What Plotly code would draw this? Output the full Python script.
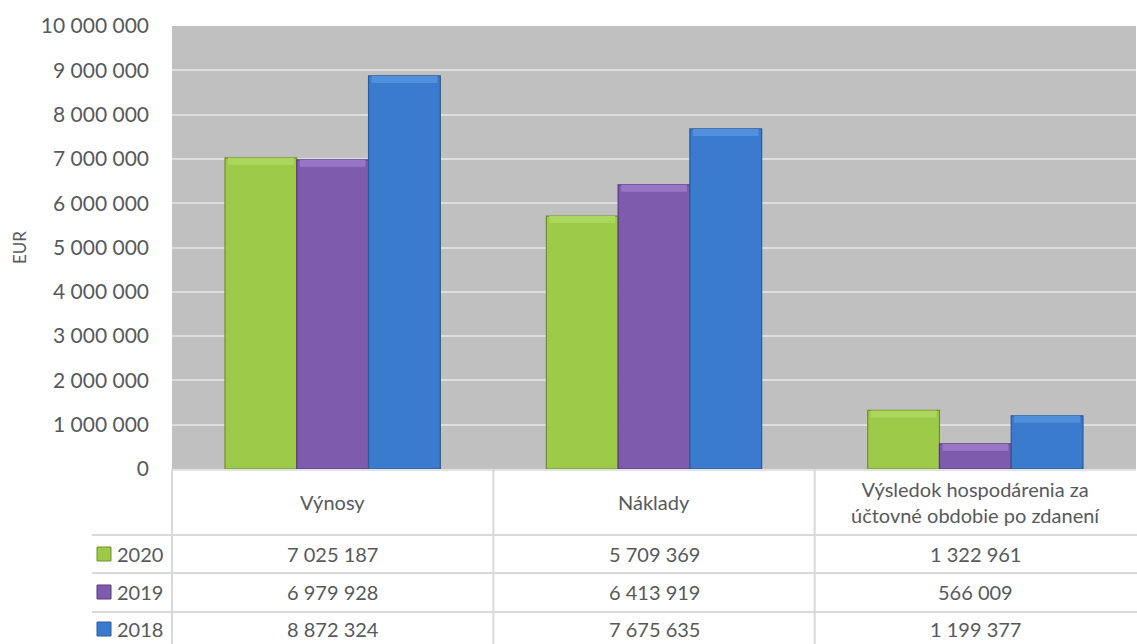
import plotly.graph_objects as go

categories = ["Výnosy", "Náklady", "Výsledok hospodárenia za<br>účtovné obdobie po zdanení"]
years = ["2020", "2019", "2018"]
values_2020 = [7025187, 5709369, 1322961]
values_2019 = [6979928, 6413919, 566009]
values_2018 = [8872324, 7675635, 1199377]
colors = ["#9dca48", "#7f5bae", "#3a7bcd"]
top_colors = ["#acd75e", "#9776c6", "#5090dc"]
line_colors = ["#6f8f2e", "#553a80", "#2a5a99"]

series = [values_2020, values_2019, values_2018]

W, H = 1137, 644
L, R, T, B = 172, 1, 26, 175
pw = W - L - R
ph = H - T - B
y_max = 10000000
bevel = y_max * 7 / ph  # ~7 px highlight strip at bar top

def px_x(x):
    return (x - L) / pw

def px_y(y):
    return (H - B - y) / ph

def fmt(v):
    return f"{v:,}".replace(",", " ")

fig = go.Figure()
xs = list(range(len(categories)))
for yr, vals, c, tc, lc in zip(years, series, colors, top_colors, line_colors):
    fig.add_trace(go.Bar(
        x=xs, y=vals, name=yr, offsetgroup=yr,
        marker=dict(color=c, line=dict(color=lc, width=1.2)),
        showlegend=False,
    ))
    fig.add_trace(go.Bar(
        x=xs, y=[bevel] * len(vals), base=[v - bevel for v in vals],
        name=yr + " top", offsetgroup=yr, width=0.205,
        marker=dict(color=tc, line=dict(width=0)),
        showlegend=False, hoverinfo="skip",
    ))

font_family = "Lato, 'Open Sans', sans-serif"
txt_color = "#595959"
grid_c = "#d9d9d9"
fs = 20

shapes = []
annotations = []

col_edges = [L + i * pw / 3 for i in range(4)]
row_lines = [535, 573, 612]
header_center = 502
row_centers = [554, 592, 629]
left_edge = 92

for xe in col_edges[:3]:
    shapes.append(dict(type="line", xref="paper", yref="paper",
                       x0=px_x(xe), x1=px_x(xe), y0=px_y(H - B), y1=px_y(H + 5),
                       line=dict(color=grid_c, width=2)))
for yl in row_lines:
    shapes.append(dict(type="line", xref="paper", yref="paper",
                       x0=px_x(left_edge), x1=px_x(W), y0=px_y(yl), y1=px_y(yl),
                       line=dict(color=grid_c, width=2)))
shapes.append(dict(type="line", xref="paper", yref="paper",
                   x0=0, x1=1, y0=px_y(H - B + 1), y1=px_y(H - B + 1),
                   line=dict(color=grid_c, width=1.5)))

for i, cat in enumerate(categories):
    cx = (col_edges[i] + col_edges[i + 1]) / 2
    annotations.append(dict(xref="paper", yref="paper", x=px_x(cx), y=px_y(header_center),
                            text=cat, showarrow=False, xanchor="center", yanchor="middle",
                            font=dict(family=font_family, size=fs, color=txt_color)))
for r, (yr, vals, c, lc) in enumerate(zip(years, series, colors, line_colors)):
    cy = row_centers[r]
    shapes.append(dict(type="rect", xref="paper", yref="paper",
                       x0=px_x(97), x1=px_x(111), y0=px_y(cy + 7), y1=px_y(cy - 7),
                       fillcolor=c, line=dict(color=lc, width=1)))
    annotations.append(dict(xref="paper", yref="paper", x=px_x(115), y=px_y(cy),
                            text=yr, showarrow=False, xanchor="left", yanchor="middle",
                            font=dict(family=font_family, size=fs, color=txt_color)))
    for i, v in enumerate(vals):
        cx = (col_edges[i] + col_edges[i + 1]) / 2
        annotations.append(dict(xref="paper", yref="paper", x=px_x(cx), y=px_y(cy),
                                text=fmt(v), showarrow=False, xanchor="center", yanchor="middle",
                                font=dict(family=font_family, size=fs, color=txt_color)))

annotations.append(dict(xref="paper", yref="paper", x=px_x(19), y=px_y(248),
                        text="EUR", textangle=-90, showarrow=False,
                        xanchor="center", yanchor="middle",
                        font=dict(family=font_family, size=17, color=txt_color)))

fig.update_layout(
    width=W, height=H,
    margin=dict(l=L, r=R, t=T, b=B),
    paper_bgcolor="white", plot_bgcolor="#c0c0c0",
    barmode="group", bargap=0.33, bargroupgap=0,
    separators=", ",
    font=dict(family=font_family, size=fs, color=txt_color),
    xaxis=dict(showticklabels=False, showgrid=False, zeroline=False,
               range=[-0.5, 2.5], fixedrange=True),
    yaxis=dict(range=[0, y_max], dtick=1000000, tickformat=",d",
               showgrid=True, gridcolor="#dedede", gridwidth=1.5,
               zeroline=False, ticks="", ticklabelstandoff=22,
               tickfont=dict(family=font_family, size=21, color=txt_color)),
    shapes=shapes, annotations=annotations,
)

fig.write_html("out.html", config={"displayModeBar": False},
               post_script="document.body.style.margin='0px';document.body.style.overflow='hidden';")
